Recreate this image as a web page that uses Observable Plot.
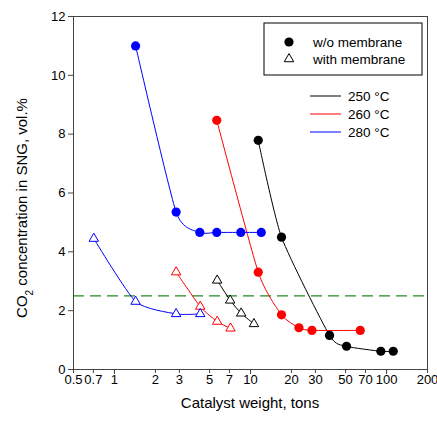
<!DOCTYPE html>
<html><head><meta charset="utf-8">
<script src="https://cdn.jsdelivr.net/npm/d3@7"></script>
<script src="https://cdn.jsdelivr.net/npm/@observablehq/plot@0.6"></script>
<style>body{margin:0;background:#fff} #chart{width:437px;height:425px}</style>
</head><body><div id="chart"></div>
<script>
// Series labels and colours
const temps = ["250 °C", "260 °C", "280 °C"];
const tempColors = ["black", "red", "blue"];
const memTypes = ["w/o membrane", "with membrane"];

// w/o membrane (filled circles)
const wo250x = [11.4, 16.9, 38.1, 50.8, 90.8, 112];
const wo250y = [7.79, 4.50, 1.16, 0.79, 0.62, 0.62];
const wo260x = [5.65, 11.4, 16.9, 22.7, 28.3, 64.1];
const wo260y = [8.47, 3.31, 1.86, 1.42, 1.33, 1.33];
const wo280x = [1.43, 2.84, 4.24, 5.65, 8.49, 12.0];
const wo280y = [11.0, 5.35, 4.66, 4.66, 4.66, 4.66];

// with membrane (open triangles)
const wm250x = [5.69, 7.09, 8.54, 10.6];
const wm250y = [3.03, 2.35, 1.91, 1.55];
const wm260x = [2.84, 4.27, 5.69, 7.13];
const wm260y = [3.31, 2.14, 1.63, 1.40];
const wm280x = [0.705, 1.43, 2.84, 4.27];
const wm280y = [4.45, 2.31, 1.89, 1.89];

// reference level
const limitCO2 = [2.5];

// ticks
const xTicks = [0.5, 0.7, 1, 2, 3, 5, 7, 10, 20, 30, 50, 70, 100, 200];
const xMajor = [1, 10, 100];
const yTicks = [0, 2, 4, 6, 8, 10, 12];

function build(xs, ys, temp, mem) {
  return xs.map((x, i) => ({x, y: ys[i], temp, mem, key: temp + "|" + mem}));
}
const without = [
  ...build(wo250x, wo250y, temps[0], memTypes[0]),
  ...build(wo260x, wo260y, temps[1], memTypes[0]),
  ...build(wo280x, wo280y, temps[2], memTypes[0])
];
const withm = [
  ...build(wm250x, wm250y, temps[0], memTypes[1]),
  ...build(wm260x, wm260y, temps[1], memTypes[1]),
  ...build(wm280x, wm280y, temps[2], memTypes[1])
];
const all = [...without, ...withm];

const font = "'Liberation Sans', Arial, sans-serif";

const plot = Plot.plot({
  width: 437, height: 425,
  marginLeft: 73, marginRight: 10, marginTop: 16, marginBottom: 56,
  style: {fontFamily: font, fontSize: "13px", background: "white", color: "black"},
  x: {type: "log", domain: [0.5, 200]},
  y: {domain: [0, 12]},
  color: {domain: temps, range: tempColors},
  marks: [
    Plot.ruleY(limitCO2, {stroke: "#228B22", strokeDasharray: "11,6", strokeWidth: 1.2}),
    Plot.line(all, {x: "x", y: "y", z: "key", stroke: "temp", curve: "cardinal", tension: 0.4, strokeWidth: 1}),
    Plot.dot(without, {x: "x", y: "y", fill: "temp", r: 4.6}),
    Plot.dot(withm, {x: "x", y: "y", stroke: "temp", fill: "white", symbol: "triangle", r: 3.5, strokeWidth: 1}),
    Plot.frame({stroke: "#444"}),
    Plot.axisY({ticks: yTicks, tickSize: 5, tickPadding: 3, label: null, stroke: "#444"}),
    Plot.axisX({ticks: xTicks, tickSize: 4, tickFormat: () => "", label: null, stroke: "#444"}),
    Plot.axisX({ticks: xMajor, tickSize: 5, tickFormat: () => "", label: null, stroke: "#444"}),
    Plot.text(xTicks, {x: d => d, text: d => String(d), frameAnchor: "bottom", dy: 14, fontSize: 13})
  ]
});
document.getElementById("chart").appendChild(plot);

const svg = d3.select(plot);
// axis titles
svg.append("text")
  .attr("x", 250).attr("y", 408)
  .attr("text-anchor", "middle")
  .style("font", "15px " + font)
  .text("Catalyst weight, tons");
const yl = svg.append("text")
  .attr("transform", "translate(27,208) rotate(-90)")
  .attr("text-anchor", "middle")
  .style("font", "15px " + font);
yl.append("tspan").text("CO");
yl.append("tspan").attr("baseline-shift", "sub").style("font-size", "10px").text("2");
yl.append("tspan").text(" concentration in SNG, vol.%");

// legend box (membrane)
const lg = svg.append("g").style("font", "13.5px " + font).attr("text-anchor", "start");
lg.append("rect").attr("x", 264).attr("y", 23).attr("width", 158).attr("height", 52)
  .attr("fill", "white").attr("stroke", "black").attr("stroke-width", 1);
lg.append("circle").attr("cx", 289).attr("cy", 42).attr("r", 4.6).attr("fill", "black");
lg.append("path").attr("d", d3.symbol(d3.symbolTriangle, Math.PI * 3.5 * 3.5)())
  .attr("transform", "translate(289,59)").attr("fill", "white").attr("stroke", "black");
lg.append("text").attr("x", 313).attr("y", 42).attr("dy", "0.35em").attr("text-anchor", "start").text(memTypes[0]);
lg.append("text").attr("x", 313).attr("y", 59).attr("dy", "0.35em").attr("text-anchor", "start").text(memTypes[1]);

// legend (temperatures)
const ys = [96, 114, 132];
temps.forEach((t, i) => {
  lg.append("line").attr("x1", 310).attr("x2", 341).attr("y1", ys[i]).attr("y2", ys[i])
    .attr("stroke", tempColors[i]).attr("stroke-width", 1);
  lg.append("text").attr("x", 348).attr("y", ys[i]).attr("dy", "0.35em").attr("text-anchor", "start").text(t);
});
</script>
</body></html>
